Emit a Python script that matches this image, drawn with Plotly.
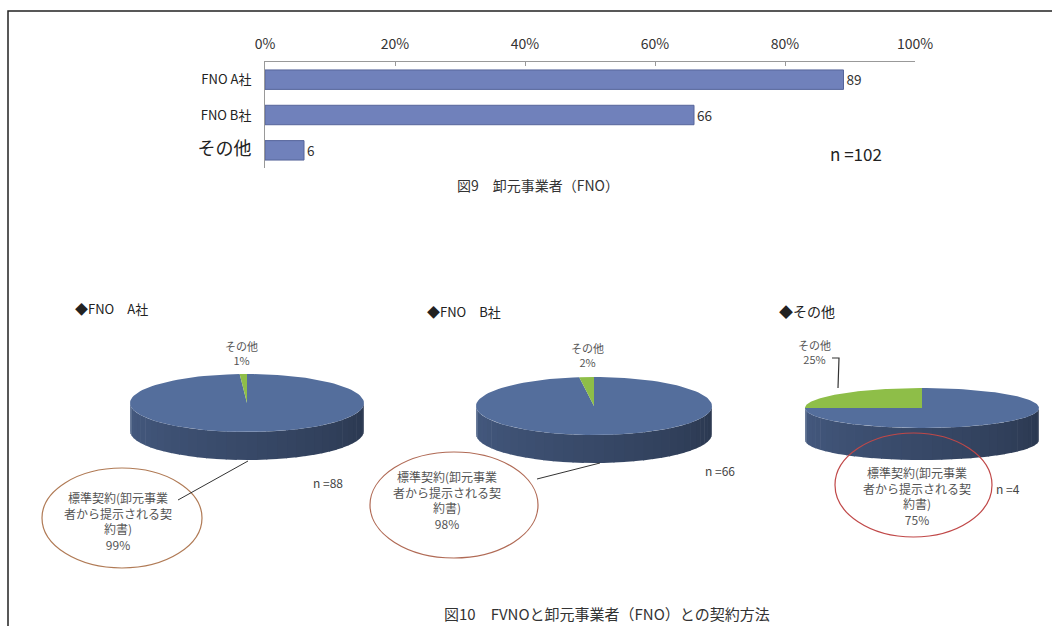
import numpy as np
import plotly.graph_objects as go

# ---------------- data ----------------
bar_categories = ["FNO A社", "FNO B社", "その他"]
bar_values = [89, 66, 6]
bar_n = 102
bar_ticks = [0, 20, 40, 60, 80, 100]

pie_titles = ["◆FNO　A社", "◆FNO　B社", "◆その他"]
pie_slice_labels = ["標準契約(卸元事業者から提示される契約書)", "その他"]
pie_values_a = [99, 1]
pie_values_b = [98, 2]
pie_values_c = [75, 25]
pie_n = [88, 66, 4]

caption_top = "図9　卸元事業者（FNO）"
caption_bottom = "図10　FVNOと卸元事業者（FNO）との契約方法"

W, H = 1052, 626
FONT = "Noto Sans CJK JP"
BLUE_TOP = (84, 110, 156)
GREEN_TOP = (142, 190, 72)
BAR_COLOR = "#7081bb"


def px(x):
    return x / W


def py(y):
    return 1 - y / H


fig = go.Figure()

# ---------------- bar chart ----------------
fig.add_trace(go.Bar(
    x=bar_values, y=bar_categories, orientation="h",
    marker=dict(color=BAR_COLOR, line=dict(color="#56659a", width=1)),
    text=[str(v) for v in bar_values], textposition="outside",
    textfont=dict(family=FONT, size=14, color="#333"),
    cliponaxis=False, xaxis="x", yaxis="y", showlegend=False,
))

# ---------------- 3D-looking pies ----------------
geoms = [  # cx, cy (top-ellipse centre), a, b, depth  (pixel space)
    (247, 403, 117, 29, 28),
    (594, 406, 118, 29, 28),
    (922, 408, 117, 20, 32),
]
pie_values = [pie_values_a, pie_values_b, pie_values_c]
slice_colors = [BLUE_TOP, GREEN_TOP]


def rgb(c, f=1.0):
    return "rgb(%d,%d,%d)" % tuple(int(max(0, min(255, v * f))) for v in c)


for (cx, cy, a, b, d), vals in zip(geoms, pie_values):
    total = float(sum(vals))
    bounds = np.cumsum([0] + vals) / total * 360.0
    # side walls (front half only: 90..270 deg clockwise from 12 o'clock)
    for i in range(len(vals)):
        t1, t2 = max(bounds[i], 90), min(bounds[i + 1], 270)
        if t2 <= t1:
            continue
        nseg = max(1, int((t2 - t1) / 5))
        edges = np.linspace(t1, t2, nseg + 1)
        for s in range(nseg):
            th = np.radians(np.linspace(edges[s], edges[s + 1] + 0.5, 6))
            xs = cx + a * np.sin(th)
            ys = cy - b * np.cos(th)
            mid = (edges[s] + edges[s + 1]) / 2
            shade = 0.50 + 0.33 * ((mid - 90) / 180)  # darker toward 3 o'clock
            fig.add_trace(go.Scatter(
                x=np.concatenate([xs, xs[::-1]]),
                y=np.concatenate([ys, ys[::-1] + d]),
                fill="toself", mode="lines", line=dict(width=0),
                fillcolor=rgb(slice_colors[i], shade),
                xaxis="x2", yaxis="y2", showlegend=False, hoverinfo="skip",
            ))
    # top surface
    for i in range(len(vals)):
        th = np.radians(np.linspace(bounds[i], bounds[i + 1], 120))
        xs = np.concatenate([[cx], cx + a * np.sin(th), [cx]])
        ys = np.concatenate([[cy], cy - b * np.cos(th), [cy]])
        fig.add_trace(go.Scatter(
            x=xs, y=ys, fill="toself", mode="lines", line=dict(width=0),
            fillcolor=rgb(slice_colors[i]),
            xaxis="x2", yaxis="y2", showlegend=False, hoverinfo="skip",
        ))


def wrap(s, n):
    return "<br>".join(s[i:i + n] for i in range(0, len(s), n))


def pct(vals, i):
    return "%d%%" % round(vals[i] / sum(vals) * 100)


ann = []


def text(x, y, t, size=11, color="#333", xanchor="center"):
    ann.append(dict(x=x, y=y, xref="x2", yref="y2", text=t, showarrow=False,
                    xanchor=xanchor, yanchor="middle",
                    font=dict(family=FONT, size=size, color=color)))


# bar chart extra text
text(856, 153, "n =" + str(bar_n), size=17, color="#222")
text(538, 185, caption_top, size=14, color="#333")

# pie titles
text(73, 308, pie_titles[0], size=13, color="#222", xanchor="left")
text(425, 311, pie_titles[1], size=13, color="#222", xanchor="left")
text(777, 311, pie_titles[2], size=14, color="#222", xanchor="left")

main_lbl = wrap(pie_slice_labels[0], 9)
# main slice labels
text(118, 521, main_lbl + "<br>" + pct(pie_values_a, 0), size=12, color="#555")
text(447, 500, main_lbl + "<br>" + pct(pie_values_b, 0), size=12, color="#555")
text(917, 496, main_lbl + "<br>" + pct(pie_values_c, 0), size=12, color="#555")
# small slice labels
text(241, 353, pie_slice_labels[1] + "<br>" + pct(pie_values_a, 1), size=11, color="#555")
text(587, 355, pie_slice_labels[1] + "<br>" + pct(pie_values_b, 1), size=11, color="#555")
text(814, 352, pie_slice_labels[1] + "<br>" + pct(pie_values_c, 1), size=11, color="#555")
# n labels
text(328, 482, "n =" + str(pie_n[0]), size=12, color="#444")
text(720, 470, "n =" + str(pie_n[1]), size=12, color="#444")
text(1008, 488, "n =" + str(pie_n[2]), size=12, color="#444")

text(607, 613, caption_bottom, size=15, color="#333")

shapes = [
    # scanned frame (left and top edges; others run off the page)
    dict(type="path", xref="x2", yref="y2", path="M8,626 L8,11 L1052,11",
         line=dict(color="#222", width=1.5)),
    # callout ellipses
    dict(type="circle", xref="x2", yref="y2", x0=42, x1=202, y0=468, y1=568,
         line=dict(color="#b07a55", width=1.2)),
    dict(type="circle", xref="x2", yref="y2", x0=370, x1=538, y0=452, y1=558,
         line=dict(color="#b06a55", width=1.2)),
    dict(type="circle", xref="x2", yref="y2", x0=835, x1=992, y0=433, y1=537,
         line=dict(color="#c04848", width=1.2)),
    # leader lines
    dict(type="line", xref="x2", yref="y2", x0=178, y0=500, x1=248, y1=461,
         line=dict(color="#333", width=1)),
    dict(type="line", xref="x2", yref="y2", x0=537, y0=479, x1=600, y1=463,
         line=dict(color="#333", width=1)),
    dict(type="path", xref="x2", yref="y2", path="M832,358 L839,358 L838,388",
         line=dict(color="#333", width=1.2)),
]

fig.update_layout(
    width=W, height=H, margin=dict(l=0, r=0, t=0, b=0, autoexpand=False),
    paper_bgcolor="white", plot_bgcolor="rgba(0,0,0,0)",
    showlegend=False, bargap=0.45,
    xaxis=dict(domain=[px(265), px(915)], range=[0, 100], side="top",
               tickvals=bar_ticks, ticktext=["%d%%" % t for t in bar_ticks],
               showgrid=False, zeroline=False, showline=True, linecolor="#999",
               ticks="inside", ticklen=4, tickcolor="#999", ticklabelstandoff=6,
               automargin=False,
               tickfont=dict(family=FONT, size=14, color="#333"), anchor="y"),
    yaxis=dict(domain=[py(168), py(62)], autorange="reversed",
               categoryorder="array", categoryarray=bar_categories,
               tickvals=bar_categories,
               ticktext=[c if not c.startswith("その") else
                         '<span style="font-size:18px">%s</span>' % c
                         for c in bar_categories],
               showgrid=False, zeroline=False, showline=True, linecolor="#999",
               ticks="", ticklabelstandoff=10, automargin=False,
               tickfont=dict(family=FONT, size=13, color="#222"), anchor="x"),
    xaxis2=dict(domain=[0, 1], range=[0, W], visible=False, anchor="y2",
                automargin=False),
    yaxis2=dict(domain=[0, 1], range=[H, 0], visible=False, anchor="x2",
                automargin=False),
    annotations=ann, shapes=shapes,
)

fig.write_html("out.html", config={"displayModeBar": False},
               post_script="document.body.style.margin='0';"
                           "document.body.style.overflow='hidden';")
